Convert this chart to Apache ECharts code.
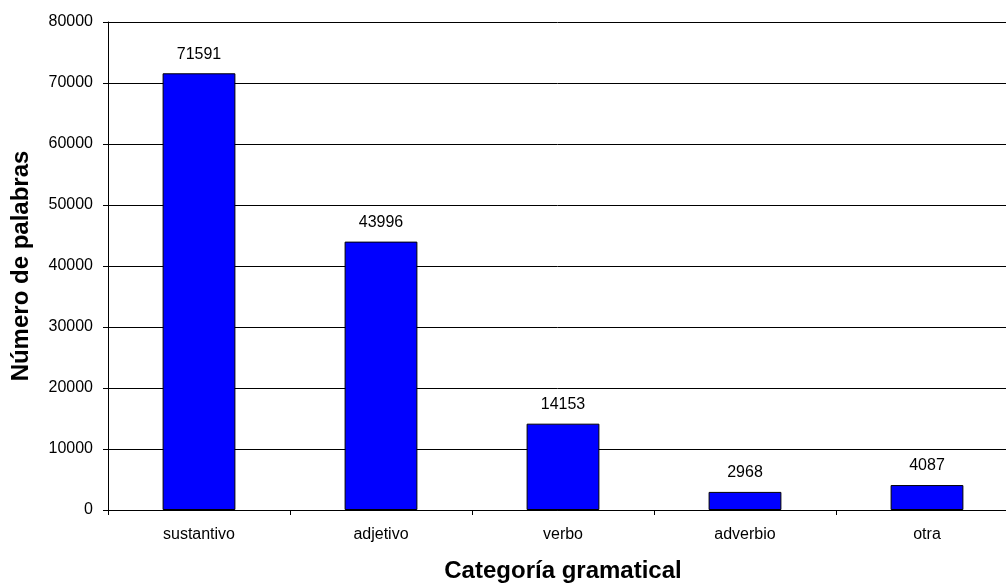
<!DOCTYPE html>
<html><head><meta charset="utf-8">
<script src="https://cdn.jsdelivr.net/npm/echarts@6/dist/echarts.min.js"></script>
<style>html,body{margin:0;padding:0;background:#fff;overflow:hidden}#c{width:1006px;height:585px}</style>
</head><body><div id="c"></div>
<script>
const categories = ['sustantivo','adjetivo','verbo','adverbio','otra'];
const values = [71591, 43996, 14153, 2968, 4087];
const yTicks = [0,10000,20000,30000,40000,50000,60000,70000,80000];

const chart = echarts.init(document.getElementById('c'), null, {renderer:'canvas'});
chart.setOption({
  animation:false,
  backgroundColor:'#fff',
  grid:{left:108, width:910, top:22, bottom:75, containLabel:false, outerBoundsMode:'none'},
  xAxis:{
    type:'category', data:categories,
    axisLine:{lineStyle:{color:'#000', width:1}},
    axisTick:{show:true, length:5, lineStyle:{color:'#000'}},
    axisLabel:{color:'#000', fontFamily:'Liberation Sans, Arial', fontSize:16, margin:17},
    name:'Categoría gramatical', nameLocation:'middle', nameGap:49,
    nameTextStyle:{color:'#000', fontFamily:'Liberation Sans, Arial', fontSize:24, fontWeight:'bold'}
  },
  yAxis:{
    type:'value', min:0, max:80000, interval:10000,
    axisLine:{show:true, lineStyle:{color:'#000'}},
    axisTick:{show:true, length:5, lineStyle:{color:'#000'}},
    axisLabel:{color:'#000', fontFamily:'Liberation Sans, Arial', fontSize:16, margin:15,
      formatter: v => yTicks.includes(v) ? String(v) : ''},
    splitLine:{show:true, lineStyle:{color:'#000', width:1}},
    name:'Número de palabras', nameLocation:'middle', nameGap:75, nameRotate:90,
    nameTextStyle:{color:'#000', fontFamily:'Liberation Sans, Arial', fontSize:24, fontWeight:'bold'}
  },
  series:[{
    type:'bar', data:values, barWidth:'40%',
    itemStyle:{color:'#0000ff', borderColor:'#000', borderWidth:1},
    label:{show:true, position:'top', distance:11, color:'#000', fontFamily:'Liberation Sans, Arial', fontSize:16}
  }]
});
</script></body></html>
